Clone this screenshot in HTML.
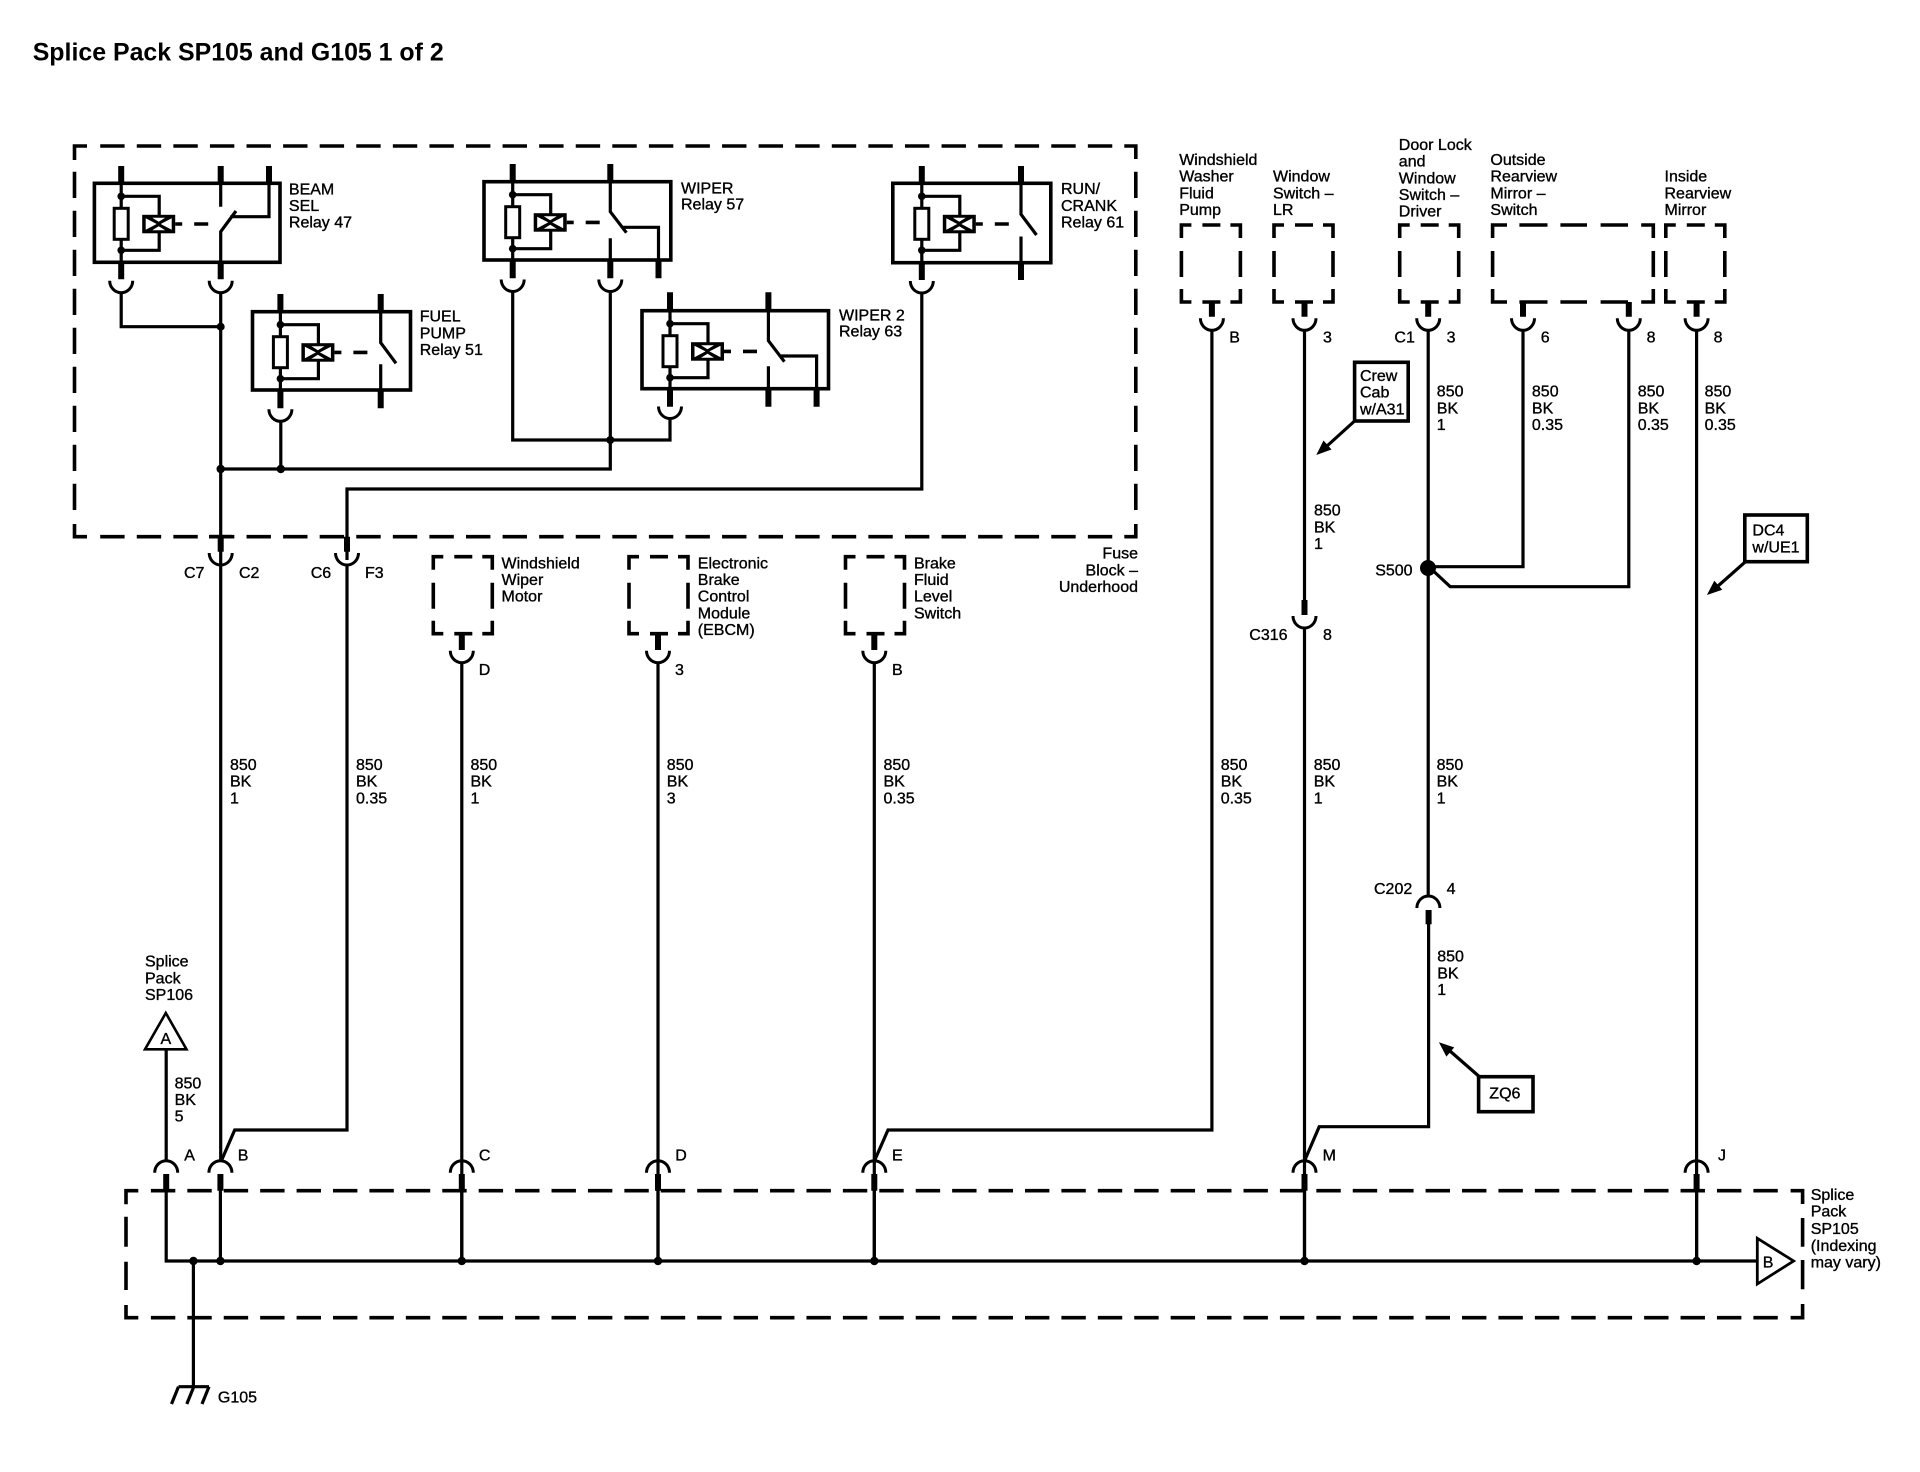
<!DOCTYPE html>
<html><head><meta charset="utf-8"><style>
html,body{margin:0;padding:0;background:#fff}
svg{display:block}
text{font-family:"Liberation Sans",Arial,sans-serif;font-size:16px;fill:#000;stroke:#000;stroke-width:.35}
.w{fill:none;stroke:#000;stroke-width:3.2}
.s{fill:none;stroke:#000;stroke-width:6}
.c{fill:none;stroke:#000;stroke-width:3}
.d{fill:none;stroke:#000;stroke-width:3.6}
.b{fill:#fff;stroke:#000;stroke-width:3.6}
</style></head><body>
<svg width="1920" height="1472" viewBox="0 0 1920 1472" xmlns="http://www.w3.org/2000/svg">
<defs>
<path id="cd" class="c" d="M-11.5 0A11.5 12 0 0 0 11.5 0"/>
<path id="cu" class="c" d="M-11.5 0A11.5 12 0 0 1 11.5 0"/>
<g id="db"><path class="d" d="M0 13V0H10M21 0H39M49 0H59V13M0 26V52M59 26V52M0 64V77H10M21 77H39M49 77H59V64"/></g>
<g id="coil">
<path class="w" d="M0 0V79M0 13H38V32M38 49V67H0"/>
<rect x="-7" y="25" width="14" height="31" fill="#fff" stroke="#000" stroke-width="3"/>
<circle cx="0" cy="13" r="3.8"/><circle cx="0" cy="67" r="3.8"/>
<rect x="21" y="31.5" width="33" height="18.5" fill="#000"/>
<path fill="#fff" d="M24.5 35V46.5L35.5 40.7ZM50.5 35V46.5L39.5 40.7ZM31 34.5H44L37.5 38.5ZM31 47H44L37.5 43Z"/>
<path class="d" d="M54 40.7H61M73 40.7H87"/>
</g>
</defs>

<text x="32.7" y="60.7" textLength="411" style="font-size:24.9px;font-weight:bold;stroke-width:0">Splice Pack SP105 and G105 1 of 2</text>

<!-- Fuse block dashed -->
<path class="d" d="M74.5 160V146H87M1124.3 146H1135.8V159M74.5 524V536.7H87M1124.3 536.7H1135.8V524M209 536.7H232"/>
<line class="d" x1="100.2" y1="146" x2="1113" y2="146" stroke-dasharray="24.4 12.18"/>
<line class="d" x1="100.2" y1="536.7" x2="1113" y2="536.7" stroke-dasharray="24.4 12.18"/>
<line class="d" x1="74.5" y1="171.7" x2="74.5" y2="510" stroke-dasharray="26.3 12.7"/>
<line class="d" x1="1135.8" y1="171.7" x2="1135.8" y2="510" stroke-dasharray="26.3 12.7"/>

<!-- Splice box dashed -->
<path class="d" d="M126 1204.3V1190.7H138.3M1790.6 1190.7H1802.6V1204M126 1305V1317.7H138.3M1790.6 1317.7H1802.6V1304M126 1216.7V1246.7M126 1261.7V1290M1802.6 1218V1246.7M1802.6 1260V1289.3"/>
<line class="d" x1="150.9" y1="1190.7" x2="1778" y2="1190.7" stroke-dasharray="24.4 12.02"/>
<line class="d" x1="150.9" y1="1317.7" x2="1778" y2="1317.7" stroke-dasharray="24.4 12.02"/>

<!-- Relay 47 -->
<rect class="b" x="94.4" y="183.3" width="185.6" height="79"/>
<use href="#coil" x="121.2" y="183.3"/>
<path class="w" d="M220.7 183.3V206.7M220.7 262V231.7L236 211M230.3 216.7H269V183"/>
<path class="s" d="M121.2 166V183.3M121.2 262V279.3M220.7 166V183.3M220.7 262V279.3M269 166V183.3"/>
<text x="288.9" y="194.5">BEAM</text><text x="288.9" y="211">SEL</text><text x="288.9" y="227.7">Relay 47</text>

<!-- Relay 51 -->
<rect class="b" x="252.5" y="311.7" width="158" height="78.3"/>
<use href="#coil" x="280.4" y="311.7"/>
<path class="w" d="M380.7 311.7V342.7L396 363.3M380.7 364.3V390"/>
<path class="s" d="M280.4 294V311.7M280.4 390V408.3M380.7 294V311.7M380.7 390V408.3"/>
<text x="419.7" y="321.7">FUEL</text><text x="419.7" y="338.4">PUMP</text><text x="419.7" y="355">Relay 51</text>

<!-- Relay 57 -->
<rect class="b" x="484" y="181.7" width="186.8" height="78.3"/>
<use href="#coil" x="512.7" y="181.7"/>
<path class="w" d="M610.3 181.7V211.7L626.4 232.7M610.3 238.3V260M622.6 227.3H658.5V260"/>
<path class="s" d="M512.7 164V181.7M512.7 260V278.3M610.3 164V181.7M610.3 260V278.3M658.5 260V278.3"/>
<text x="681" y="193.3">WIPER</text><text x="681" y="209.5">Relay 57</text>

<!-- Relay 63 -->
<rect class="b" x="642" y="310.7" width="186.5" height="78"/>
<use href="#coil" x="670" y="310.7"/>
<path class="w" d="M768.4 310.7V340.7L784.4 361.7M768.4 366.3V388.7M780.5 356H816.6V388.7"/>
<path class="s" d="M670 292.3V310.7M670 388.7V406.7M768.4 292.3V310.7M768.4 388.7V406.7M816.6 388.7V406.7"/>
<text x="839" y="320.7">WIPER 2</text><text x="839" y="336.7">Relay 63</text>

<!-- Relay 61 -->
<rect class="b" x="892.8" y="183.3" width="158" height="79.4"/>
<use href="#coil" x="921.8" y="183.3"/>
<path class="w" d="M1021 183.3V214.3L1036.5 235M1021 236.5V262.7"/>
<path class="s" d="M921.8 166V183.3M921.8 262.7V280M1021 166V183.3M1021 262.7V280"/>
<text x="1061" y="194">RUN/</text><text x="1061" y="211">CRANK</text><text x="1061" y="227.3">Relay 61</text>

<!-- Wires in fuse block -->
<path class="w" d="M121.2 292V326.7H220.7M220.7 292V1160M220.7 469H610.3V291M280.8 469V420M512.7 291V440H670V418M921.8 292V489H347V560"/>
<circle cx="220.7" cy="326.7" r="4"/><circle cx="220.7" cy="469" r="4.2"/><circle cx="280.8" cy="469" r="4.2"/><circle cx="610.3" cy="440" r="4"/>
<path class="s" d="M220.7 536.7V551.7M347 536.7V551.7"/>

<!-- Connector cups down -->
<use href="#cd" x="121.2" y="280.7"/><use href="#cd" x="220.7" y="280.7"/><use href="#cd" x="280.4" y="409.3"/>
<use href="#cd" x="512.7" y="279.5"/><use href="#cd" x="610.3" y="279.5"/><use href="#cd" x="670" y="406.5"/>
<use href="#cd" x="921.8" y="281"/><use href="#cd" x="220.7" y="553"/><use href="#cd" x="347" y="553"/>
<use href="#cd" x="461.8" y="650.7"/><use href="#cd" x="658" y="650.7"/><use href="#cd" x="874.3" y="650.7"/>
<use href="#cd" x="1211.9" y="318.3"/><use href="#cd" x="1304.5" y="318.3"/><use href="#cd" x="1428.2" y="318.3"/>
<use href="#cd" x="1523" y="318.3"/><use href="#cd" x="1628.8" y="318.3"/><use href="#cd" x="1696.6" y="318.3"/>
<use href="#cd" x="1304.5" y="616"/>

<!-- Connector cups up -->
<use href="#cu" x="166.2" y="1172.7"/><use href="#cu" x="220.4" y="1172.7"/><use href="#cu" x="461.8" y="1172.7"/>
<use href="#cu" x="658" y="1172.7"/><use href="#cu" x="874.3" y="1172.7"/><use href="#cu" x="1304.5" y="1172.7"/>
<use href="#cu" x="1696.6" y="1172.7"/><use href="#cu" x="1428.4" y="908"/>

<text x="184" y="578">C7</text><text x="239" y="578">C2</text><text x="310.7" y="578">C6</text><text x="365" y="578">F3</text>
<text text-anchor="end" x="1138" y="558.3">Fuse</text><text text-anchor="end" x="1138" y="575.7">Block –</text><text text-anchor="end" x="1138" y="592">Underhood</text>

<!-- Device boxes middle -->
<use href="#db" x="433.3" y="556.7"/><use href="#db" x="629" y="556.7"/><use href="#db" x="845.5" y="556.7"/>
<path class="s" d="M461.8 633.3V650M658 633.3V650M874.3 633.3V650"/>
<text x="501.5" y="568.3">Windshield</text><text x="501.5" y="585">Wiper</text><text x="501.5" y="601.7">Motor</text>
<text x="697.8" y="568.3">Electronic</text><text x="697.8" y="585">Brake</text><text x="697.8" y="601.7">Control</text><text x="697.8" y="618.3">Module</text><text x="697.8" y="635">(EBCM)</text>
<text x="914" y="568.3">Brake</text><text x="914" y="585">Fluid</text><text x="914" y="601.7">Level</text><text x="914" y="618.3">Switch</text>
<text x="478.7" y="675">D</text><text x="675" y="675">3</text><text x="892" y="675">B</text>

<!-- Device boxes top -->
<use href="#db" x="1181.4" y="225"/><use href="#db" x="1274" y="225"/><use href="#db" x="1399.7" y="225"/><use href="#db" x="1665.8" y="225"/>
<path class="d" d="M1492.6 238V225H1507M1519.4 225H1547.5M1560.4 225H1587M1600.6 225H1628M1641.2 225H1653.3V238M1492.6 251V277M1653.3 251V277M1492.6 289V302H1507M1519.4 302H1547.5M1560.4 302H1587M1600.6 302H1628M1641.2 302H1653.3V289"/>
<path class="s" d="M1211.9 302V316.7M1304.5 302V316.7M1428.2 302V316.7M1523 302V316.7M1628.8 302V316.7M1696.6 302V316.7"/>

<text x="1179.2" y="165">Windshield</text><text x="1179.2" y="181.7">Washer</text><text x="1179.2" y="198.3">Fluid</text><text x="1179.2" y="215">Pump</text>
<text x="1273" y="181.7">Window</text><text x="1273" y="198.3">Switch –</text><text x="1273" y="215">LR</text>
<text x="1398.8" y="150">Door Lock</text><text x="1398.8" y="166.7">and</text><text x="1398.8" y="183.3">Window</text><text x="1398.8" y="200">Switch –</text><text x="1398.8" y="216.7">Driver</text>
<text x="1490.4" y="165">Outside</text><text x="1490.4" y="181.7">Rearview</text><text x="1490.4" y="198.3">Mirror –</text><text x="1490.4" y="215">Switch</text>
<text x="1664.5" y="181.7">Inside</text><text x="1664.5" y="198.3">Rearview</text><text x="1664.5" y="215">Mirror</text>

<text x="1229.2" y="342.7">B</text><text x="1323" y="342.7">3</text><text x="1394.4" y="342.7">C1</text><text x="1446.6" y="342.7">3</text><text x="1540.8" y="342.7">6</text><text x="1646.6" y="342.7">8</text><text x="1713.6" y="342.7">8</text>

<!-- Long vertical wires -->
<path class="w" d="M347 564V1130H234.7L221.7 1160M461.8 662V1261M658 662V1261M874.3 662V1261M1211.9 329V1130H888L874.8 1160M1304.5 329V600M1304.5 627V1261M1428.2 329V897M1428.6 924V1126.7H1319.2L1304.9 1160M1696.6 329V1261M1523 329V566.7H1428M1628.8 329V586.7H1450.2L1428 566"/>
<circle cx="1428" cy="568" r="8"/>
<path class="s" d="M1304.5 600V615M1428.6 910V924.3"/>

<!-- Stubs at bottom connectors -->
<path class="s" d="M166.2 1174V1190.7M220.4 1174V1190.7M461.8 1174V1190.7M658 1174V1190.7M874.3 1174V1190.7M1304.5 1174V1190.7M1696.6 1174V1190.7"/>
<path class="w" d="M166.2 1049V1160M166.2 1190V1261H1758M220.4 1190V1261M461.8 1190V1261M658 1190V1261M874.3 1190V1261M1304.5 1190V1261M1696.6 1190V1261M193.4 1261V1386.7"/>
<circle cx="193.4" cy="1261" r="4.2"/><circle cx="220.4" cy="1261" r="4.2"/><circle cx="461.8" cy="1261" r="4.2"/><circle cx="658" cy="1261" r="4.2"/><circle cx="874.3" cy="1261" r="4.2"/><circle cx="1304.5" cy="1261" r="4.2"/><circle cx="1696.6" cy="1261" r="4.2"/>

<!-- Ground -->
<path class="w" d="M178.5 1386.7H209M178.5 1386.7L171.5 1404M193.8 1386.7L186.8 1404M209 1386.7L202 1404"/>
<text x="217.9" y="1402.7">G105</text>

<!-- Triangles -->
<path d="M165.8 1013L186.5 1049.3H145Z" fill="#fff" stroke="#000" stroke-width="2.6"/>
<text x="165.8" y="1044" text-anchor="middle">A</text>
<path d="M1757.3 1238.3V1284L1793.6 1261Z" fill="#fff" stroke="#000" stroke-width="2.8"/>
<text x="1762.8" y="1267.3">B</text>

<text x="145" y="966.7">Splice</text><text x="145" y="983.3">Pack</text><text x="145" y="1000">SP106</text>
<text x="174.6" y="1088.3">850</text><text x="174.6" y="1105">BK</text><text x="174.6" y="1121.7">5</text>
<text x="184.2" y="1160.7">A</text><text x="237.8" y="1160.7">B</text><text x="478.9" y="1160.7">C</text><text x="675.2" y="1160.7">D</text><text x="892" y="1160.7">E</text><text x="1322.6" y="1160.7">M</text><text x="1718" y="1160.7">J</text>

<text x="1810.7" y="1200">Splice</text><text x="1810.7" y="1216.7">Pack</text><text x="1810.7" y="1234">SP105</text><text x="1810.7" y="1251">(Indexing</text><text x="1810.7" y="1267.7">may vary)</text>

<!-- Wire labels -->
<text x="230" y="770">850</text><text x="230" y="786.7">BK</text><text x="230" y="803.3">1</text>
<text x="356" y="770">850</text><text x="356" y="786.7">BK</text><text x="356" y="803.3">0.35</text>
<text x="470.5" y="770">850</text><text x="470.5" y="786.7">BK</text><text x="470.5" y="803.3">1</text>
<text x="666.8" y="770">850</text><text x="666.8" y="786.7">BK</text><text x="666.8" y="803.3">3</text>
<text x="883.5" y="770">850</text><text x="883.5" y="786.7">BK</text><text x="883.5" y="803.3">0.35</text>
<text x="1220.7" y="770">850</text><text x="1220.7" y="786.7">BK</text><text x="1220.7" y="803.3">0.35</text>
<text x="1313.7" y="770">850</text><text x="1313.7" y="786.7">BK</text><text x="1313.7" y="803.3">1</text>
<text x="1436.6" y="770">850</text><text x="1436.6" y="786.7">BK</text><text x="1436.6" y="803.3">1</text>
<text x="1437.2" y="961.7">850</text><text x="1437.2" y="978.3">BK</text><text x="1437.2" y="995">1</text>
<text x="1314" y="515.7">850</text><text x="1314" y="532.3">BK</text><text x="1314" y="549">1</text>
<text x="1436.8" y="396.7">850</text><text x="1436.8" y="413.3">BK</text><text x="1436.8" y="430">1</text>
<text x="1531.9" y="396.7">850</text><text x="1531.9" y="413.3">BK</text><text x="1531.9" y="430">0.35</text>
<text x="1637.7" y="396.7">850</text><text x="1637.7" y="413.3">BK</text><text x="1637.7" y="430">0.35</text>
<text x="1704.6" y="396.7">850</text><text x="1704.6" y="413.3">BK</text><text x="1704.6" y="430">0.35</text>

<text x="1375.2" y="575.7">S500</text>
<text x="1249.3" y="640">C316</text><text x="1323" y="640">8</text>
<text x="1374" y="894">C202</text><text x="1446.6" y="894">4</text>

<!-- Option boxes and arrows -->
<rect class="b" x="1354.6" y="362.3" width="53.6" height="58.7"/>
<text x="1360" y="381">Crew</text><text x="1360" y="397.7">Cab</text><text x="1360" y="414.3">w/A31</text>
<path class="w" d="M1354.6 421L1327 446"/><path d="M1316.3 455L1331.5 449.5L1323.5 440.5Z"/>

<rect class="b" x="1744.8" y="515" width="62.5" height="46.7"/>
<text x="1752.4" y="535.7">DC4</text><text x="1752.4" y="552.3">w/UE1</text>
<path class="w" d="M1744.8 562.3L1718 586"/><path d="M1706.9 595L1722.3 589.7L1714.3 580.7Z"/>

<rect class="b" x="1478.6" y="1076.7" width="54.4" height="35"/>
<text x="1489.3" y="1098.3">ZQ6</text>
<path class="w" d="M1478.6 1076L1450 1051"/><path d="M1438.9 1042.3L1454.2 1047.4L1446.4 1056.6Z"/>
</svg>
</body></html>
